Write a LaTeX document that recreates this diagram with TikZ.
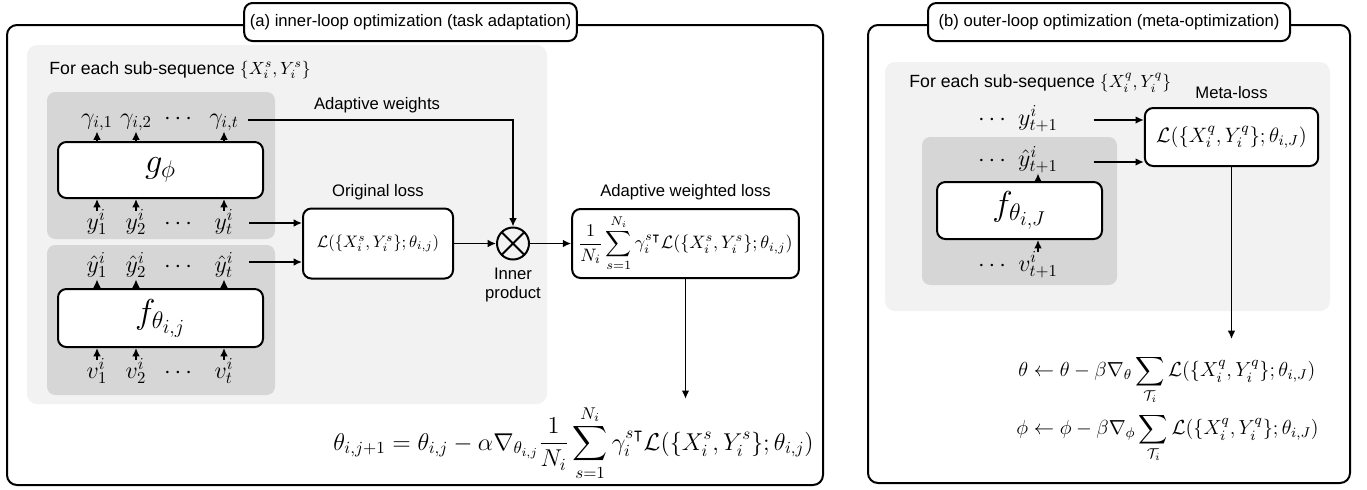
\RequirePackage{fix-cm}
\documentclass[tikz,border=0pt]{standalone}
\usepackage{amsmath}
\usepackage{amssymb}
\usepackage[no-math]{fontspec}
\setmainfont{Liberation Sans}
\usepackage{tikz}
\usetikzlibrary{arrows.meta}
\usetikzlibrary{positioning}

\definecolor{panelgray}{RGB}{242,242,242}
\definecolor{stackgray}{RGB}{214,214,214}

\tikzset{
  panel/.style={line width=1.2pt, rounded corners=6pt},
  headbox/.style={draw, line width=1.2pt, rounded corners=5pt, fill=white, minimum height=22.8pt},
  block/.style={draw, line width=1.2pt, rounded corners=5pt, fill=white},
  lbl/.style={inner sep=1pt, text height=5pt, text depth=3pt, font=\Large, anchor=base},
  note/.style={inner sep=1pt, font=\fontsize{10.6}{12}\selectfont},
}

\begin{document}
\begin{tikzpicture}[x=0.6pt, y=-0.6pt, line width=0.9pt, >={Latex[length=5pt, width=4.6pt]}]
  \useasboundingbox (0,0) rectangle (1367,489);

  % (a) inner-loop optimization
  \draw[panel] (7,25) rectangle (823,485);
  \fill[panelgray, rounded corners=6pt] (27,45) rectangle (547,404);
  \fill[stackgray, rounded corners=5pt] (47,92) rectangle (275,239);
  \fill[stackgray, rounded corners=5pt] (47,245) rectangle (275,395);
  \node[headbox, minimum width=198.6pt] (head_a) at (410.5,22) {(a) inner-loop optimization (task adaptation)};
  \node[note, anchor=west] (seq_a) at (47,70) {For each sub-sequence $\{X_i^s, Y_i^s\}$};

  \node[block, minimum width=123pt, minimum height=33.6pt, font=\huge] (g_phi) at (160.5,170) {$g_\phi$};
  \node[block, minimum width=123pt, minimum height=34.8pt, font=\huge] (f_ij) at (160.5,318) {$f_{\theta_{i,j}}$};

  \node[lbl] (gam_1) at (97,124)  {$\gamma_{i,1}$};
  \node[lbl] (gam_2) at (136,124) {$\gamma_{i,2}$};
  \node[lbl] (gam_d) at (180,124) {$\cdots$};
  \node[lbl] (gam_t) at (224,124) {$\gamma_{i,t}$};
  \node[lbl] (y_1) at (97,229)  {$y_1^i$};
  \node[lbl] (y_2) at (136,229) {$y_2^i$};
  \node[lbl] (y_d) at (180,229) {$\cdots$};
  \node[lbl] (y_t) at (224,229) {$y_t^i$};
  \node[lbl] (yh_1) at (97,272)  {$\hat{y}_1^i$};
  \node[lbl] (yh_2) at (136,272) {$\hat{y}_2^i$};
  \node[lbl] (yh_d) at (180,272) {$\cdots$};
  \node[lbl] (yh_t) at (224,272) {$\hat{y}_t^i$};
  \node[lbl] (v_1) at (97,378)  {$v_1^i$};
  \node[lbl] (v_2) at (136,378) {$v_2^i$};
  \node[lbl] (v_d) at (180,378) {$\cdots$};
  \node[lbl] (v_t) at (224,378) {$v_t^i$};

  \draw[->] (g_phi.north -| gam_1) -- (gam_1.south);
  \draw[->] (g_phi.north -| gam_2) -- (gam_2.south);
  \draw[->] (g_phi.north -| gam_t) -- (gam_t.south);
  \draw[->, shorten <=4.5pt] (y_1.north) -- (y_1.north |- g_phi.south);
  \draw[->, shorten <=4.5pt] (y_2.north) -- (y_2.north |- g_phi.south);
  \draw[->, shorten <=4.5pt] (y_t.north) -- (y_t.north |- g_phi.south);
  \draw[->] (f_ij.north -| yh_1) -- (yh_1.south);
  \draw[->] (f_ij.north -| yh_2) -- (yh_2.south);
  \draw[->] (f_ij.north -| yh_t) -- (yh_t.south);
  \draw[->, shorten <=4.5pt] (v_1.north) -- (v_1.north |- f_ij.south);
  \draw[->, shorten <=4.5pt] (v_2.north) -- (v_2.north |- f_ij.south);
  \draw[->, shorten <=4.5pt] (v_t.north) -- (v_t.north |- f_ij.south);

  \node[block, minimum width=90pt, minimum height=42pt, font=\fontsize{10}{12}\selectfont] (l_orig) at (378,243.5)
    {$\mathcal{L}(\{X_i^s,Y_i^s\};\theta_{i,j})$};
  \node[above=1pt of l_orig] (c_orig) {Original loss};
  \node[circle, draw, line width=1.2pt, minimum size=19.2pt, inner sep=0pt,
        path picture={\draw[line width=1.2pt] (path picture bounding box.north west) -- (path picture bounding box.south east)
                                              (path picture bounding box.north east) -- (path picture bounding box.south west);}]
    (ip) at (513,243.5) {};
  \node[below=1pt of ip, align=center, font=\fontsize{10}{11}\selectfont] (c_ip) {Inner\\product};
  \node[block, minimum width=136pt, minimum height=41.4pt, font=\fontsize{10.8}{13}\selectfont] (l_awl) at (685.5,243.5)
    {$\displaystyle\frac{1}{N_i}\sum_{s=1}^{N_i}\gamma_i^{s\intercal}\mathcal{L}(\{X_i^s,Y_i^s\};\theta_{i,j})$};
  \node[above=1pt of l_awl] (c_awl) {Adaptive weighted loss};
  \node (c_aw) at (377,105) {Adaptive weights};

  \coordinate (gt_out) at ([yshift=1.4pt]gam_t.east);
  \coordinate (yt_out) at ([yshift=2.6pt]y_t.east);
  \coordinate (yht_out) at ([yshift=5pt]yh_t.east);
  \draw[->, shorten <=4pt] (gt_out) -| (ip.north);
  \draw[->, shorten <=8pt] (yt_out) -- (yt_out -| l_orig.west);
  \draw[->, shorten <=8pt] (yht_out) -- (yht_out -| l_orig.west);
  \draw[->] (l_orig) -- (ip);
  \draw[->] (ip) -- (l_awl);

  \node[anchor=east, font=\fontsize{14.6}{17}\selectfont] (upd_a) at (820,443)
    {$\displaystyle\theta_{i,j+1}=\theta_{i,j}-\alpha\nabla_{\theta_{i,j}}\frac{1}{N_i}\sum_{s=1}^{N_i}\gamma_i^{s\intercal}\mathcal{L}(\{X_i^s,Y_i^s\};\theta_{i,j})$};
  \draw[->] (l_awl.south) -- (l_awl.south |- upd_a.north);

  % (b) outer-loop optimization
  \draw[panel] (868,25) rectangle (1350,483);
  \fill[panelgray, rounded corners=6pt] (885,62) rectangle (1330,311);
  \fill[stackgray, rounded corners=5pt] (922,137) rectangle (1117,285);
  \node[headbox, minimum width=217.2pt] (head_b) at (1109,22) {(b) outer-loop optimization (meta-optimization)};
  \node[note, anchor=west] (seq_b) at (907,83) {For each sub-sequence $\{X_i^q, Y_i^q\}$};

  \node[block, minimum width=99pt, minimum height=34.2pt, font=\huge] (f_iJ) at (1019.5,210.5) {$f_{\theta_{i,J}}$};
  \node[lbl] (yd_n)  at (994,125)  {$\cdots$};
  \node[lbl] (y_n)   at (1038,125) {$y_{t+1}^i$};
  \node[lbl] (yhd_n) at (994,166)  {$\cdots$};
  \node[lbl] (yh_n)  at (1038,166) {$\hat{y}_{t+1}^i$};
  \node[lbl] (vd_n)  at (994,271)  {$\cdots$};
  \node[lbl] (v_n)   at (1038,271) {$v_{t+1}^i$};
  \draw[->] (f_iJ.north -| yh_n) -- (yh_n.south);
  \draw[->, shorten <=5pt] (v_n.north) -- (v_n.north |- f_iJ.south);

  \node[block, minimum width=104pt, minimum height=34.8pt, font=\fontsize{12.5}{15}\selectfont] (l_meta) at (1231.5,137)
    {$\mathcal{L}(\{X_i^q,Y_i^q\};\theta_{i,J})$};
  \node[above=1pt of l_meta] (c_meta) {Meta-loss};
  \coordinate (yn_out) at ([yshift=2pt]y_n.east);
  \coordinate (yhn_out) at ([yshift=1.4pt]yh_n.east);
  \draw[->, shorten <=20pt] (yn_out) -- (yn_out -| l_meta.west);
  \draw[->, shorten <=20pt] (yhn_out) -- (yhn_out -| l_meta.west);

  \node[anchor=east, font=\fontsize{12.2}{15}\selectfont] (upd_b) at (1325,409)
    {$\begin{aligned}
      \theta &\leftarrow \theta-\beta\nabla_\theta\sum_{\mathcal{T}_i}\mathcal{L}(\{X_i^q,Y_i^q\};\theta_{i,J})\\[1pt]
      \phi &\leftarrow \phi-\beta\nabla_\phi\sum_{\mathcal{T}_i}\mathcal{L}(\{X_i^q,Y_i^q\};\theta_{i,J})
    \end{aligned}$};
  \draw[->, shorten >=6pt] (l_meta.south) -- (l_meta.south |- upd_b.north);
\end{tikzpicture}
\end{document}
